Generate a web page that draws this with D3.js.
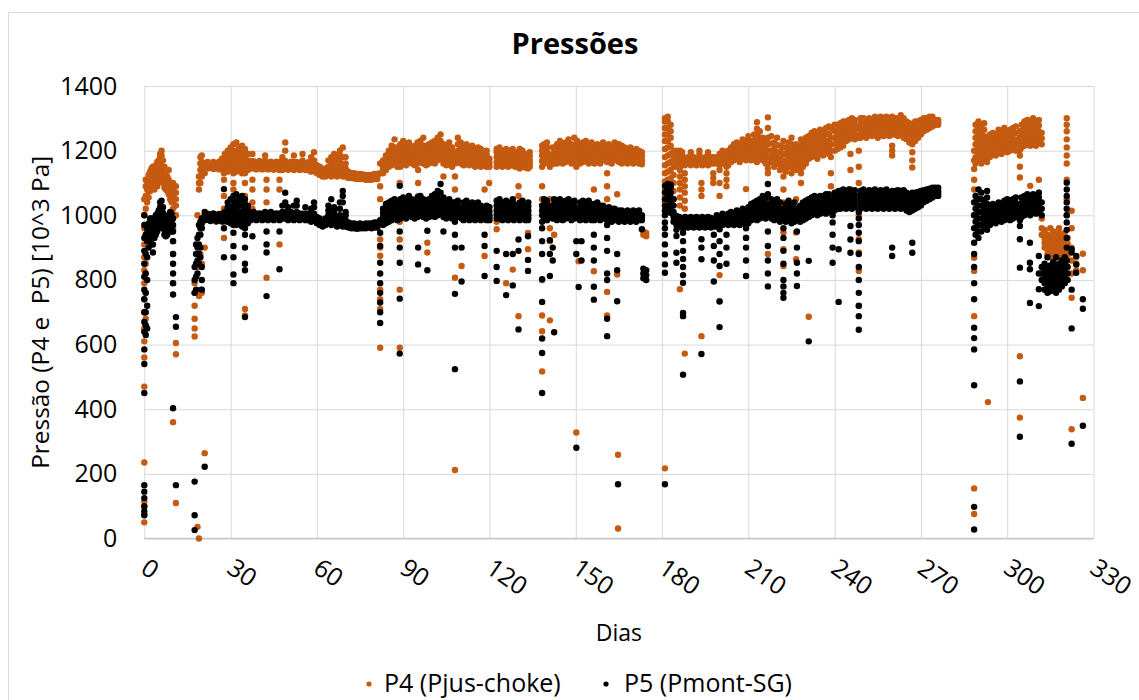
<!DOCTYPE html>
<html><head><meta charset="utf-8">
<script src="https://cdn.jsdelivr.net/npm/d3@7"></script>
<style>body{margin:0;background:#fff}svg{display:block}text{font-family:"Open Sans",sans-serif}</style>
</head><body>
<svg id="c" width="1139" height="700"></svg>
<script>
// ---- data ----
const titleText = "Pressões";
const xLabel = "Dias";
const yLabel = "Pressão (P4 e  P5) [10^3 Pa]";
const seriesNames = ["P4 (Pjus-choke)", "P5 (Pmont-SG)"];
const xTicks = [0,30,60,90,120,150,180,210,240,270,300,330];
const yTicks = [0,200,400,600,800,1000,1200,1400];

// each entry: [day, value, value, ...]  (all points observed at that day)
const p4Columns = [
[0,50,75,100,115,235,470,560,610,650,700,740,790,830,870,910,960,1000,1050],
[0.5,680,760,850,940,1020,1060,1090,1110],[1,1040,1060,1080,1095,1110],[1.5,1055,1075,1090,1105,1125],
[2,1075,1090,1105,1120,1135],[2.5,1085,1100,1115,1130,1145],[3,1090,1105,1120,1135,1150],[3.5,1080,1095,1110,1125,1145],
[4,1095,1110,1125,1140,1155],[4.5,1090,1105,1120,1140,1165],[5,1105,1120,1135,1150,1170],[5.5,1115,1130,1145,1160,1180,1190],
[6,1120,1135,1150,1170,1185,1200],[6.5,1100,1115,1130,1150,1170],[7,1085,1100,1115,1130,1150],[7.5,1080,1095,1110,1125],
[8,1075,1090,1105,1120],[8.5,1065,1080,1095,1110,1140],[9,1050,1065,1080,1095],[9.5,1040,1055,1070,1085],
[10,360,790,880,920,960,1000,1020,1040,1060,1080,1100],[11,110,570,605,1000,1030,1050,1070,1090],
[17.5,625,650,680,720,760,790],[18.5,36,840,880,1000],[19,0,750,850,1080,1100,1120],[19.5,770,880,1100,1120,1140,1160,1180],
[20,760,850,1120,1135,1150,1165,1185],[21,264,900,1130,1145,1160],
[22,1145,1155,1165],[23,1147,1158],[24,1143,1153,1165],[25,1146,1158],[26,1142,1154,1166],[27,1145,1158,1175],
[27.7,930,980,1020,1060,1110,1130],[28,1140,1155,1170,1190],[29,1135,1150,1165,1185,1200],[30,1140,1155,1175,1195,1210],
[31,1080,1100,1130,1145,1160,1180,1200,1220],[32,1135,1150,1170,1185,1200,1225],[33,1140,1155,1175,1195,1210],
[34,1130,1145,1160,1180,1195,1215],[35,690,710,1060,1100,1130,1145,1165,1180,1205],[36,1140,1155,1170,1190],
[37,1145,1157,1168],[37.6,1020,1040,1080,1110,1190],[38,1145,1157,1167],[39,1142,1155,1164],[40,1146,1158,1168],
[41,1142,1153,1163],[42,1145,1157,1170,1185],[42.5,807,1040,1080,1110],[43,1142,1152,1162],[44,1145,1156,1166],
[45,1141,1152,1162],[46,1145,1156,1166],[47,910,1080,1110,1140,1152,1165],[48,1140,1152,1165,1180],
[49,1145,1157,1168,1200,1225],[50,1141,1152,1162],[51,1144,1155,1166],[52,1140,1152,1165,1185],[53,1144,1155,1165],
[54,1140,1151,1161],[55,1143,1155,1170,1190],[56,1140,1150,1160],[57,1140,1152,1164],[58,1135,1148,1162,1180],
[59,1138,1152,1170,1195],[60,1130,1142,1155],[61,1125,1137,1150],[62,1120,1130,1140],[63,1120,1132,1145],
[64,1125,1137,1150,1170],[65,1120,1135,1150,1165,1180],[66,1125,1140,1160,1175,1190],[67,1120,1135,1150,1175],
[68,1125,1145,1165,1185,1200],[69,1120,1135,1150,1180,1210],[70,1120,1132,1145,1160,1180],[71,1115,1125,1135],
[72,1115,1123,1130],[73,1114,1122,1130],[74,1112,1120,1128],[75,1112,1120,1128],[76,1112,1119,1126],[77,1110,1118,1125],
[78,1110,1118,1125],[79,1110,1118,1125],[80,1112,1120,1128],[81,1112,1120,1128],
[82,590,710,740,770,875,900,925,1050,1090,1130,1160],[83,1130,1140,1150,1160,1170],[84,1140,1152,1165,1175,1185],
[85,1150,1162,1175,1190,1200],[86,1155,1170,1185,1200,1215],[87,1160,1175,1190,1210,1235],[88,1150,1165,1180,1195,1210],
[88.8,590,770,925,980,1040,1100],
[89,1150,1165,1185,1200,1220],[90,1160,1175,1190,1210,1230],[91,1155,1170,1185,1200,1215],[92,1165,1180,1195,1210,1225],
[93,1160,1175,1190,1200,1210],[94,1155,1170,1185,1200,1215],[95,1160,1178,1195,1210,1225],[95.2,1060,1100,1140],
[96,1165,1180,1200,1215,1230],[97,1160,1178,1195,1215,1240],[98,1155,1170,1185,1200,1215],[98.4,885,915],
[99,1160,1175,1190,1205,1220],[100,1165,1180,1195,1210,1225],[101,1160,1175,1190,1210,1230],[102,1170,1185,1200,1220,1240],
[103,1175,1190,1210,1230,1250],[104,1120,1160,1175,1190,1205,1220],[105,1155,1170,1185,1200,1215],
[106,1160,1175,1190,1205,1225],[107,1150,1165,1180,1195,1210],[108,212,807,1040,1080,1120,1160,1175,1190],
[109,1165,1180,1200,1220,1240],[110,1160,1175,1190,1205,1225],[110.3,843],[111,1155,1170,1185,1200,1215],
[112,1160,1175,1190,1205,1220],[113,1155,1168,1180,1195,1210],[114,1160,1175,1190,1203,1215],[115,1150,1165,1180,1193,1205],
[116,1155,1170,1185,1198,1210],[117,1150,1165,1180,1193,1205],[118,1155,1170,1185],[118.3,874,1080],
[119,1150,1162,1175,1188,1200],[119.9,1100],[120,1150,1162,1175],
[122.5,957,980,1150,1165,1180,1195,1205],[123.5,1155,1170,1185,1198,1210],[124.5,1150,1162,1175,1188,1200],
[125.8,790,1155,1168,1180,1193,1205],[126.5,1150,1162,1175,1188,1200],[127.3,1155,1170,1185,1200],
[128.1,832,1155,1168,1180,1193,1205],[129,1150,1165,1180,1195],[130.1,688,1060,1090,1150,1165,1180],
[130.5,1145,1160,1175,1190,1205],[131.5,1150,1165,1180,1190,1200],[132.5,1148,1162,1175,1190],
[133.4,895,945,1145,1160,1175],[134,1150,1160,1170,1183,1195],
[138.3,517,641,690,800,1050,1090,1150,1168,1185,1200,1215],[139,1160,1175,1190,1205,1220],[140,1165,1180,1195,1210,1225],
[141,675,920,960,1010,1050,1150,1165,1180],[142,1160,1175,1190,1210],[142.5,940,990,1030,1160,1178,1195],
[143.5,1160,1175,1190,1205,1220],[144.5,1170,1185,1200,1215,1230],[145.5,1160,1175,1190,1205,1220],
[146.5,1165,1180,1195,1210,1225],[147.5,1170,1185,1200,1218,1235],[148.5,1160,1175,1190,1205,1220],
[149.5,1165,1180,1195,1215,1240],[150.2,328,1150],[151,858],[150.5,1170,1185,1200,1215,1230],
[151.5,1160,1175,1190,1203,1215],[152.5,1165,1180,1195,1210,1225],[153.5,1170,1185,1200,1215,1230],
[154.5,1160,1175,1190,1205,1220],[155.5,1165,1180,1195,1210,1225],[156.3,827,1080],[156.5,1160,1172,1185,1200,1215],
[157.5,1165,1180,1195,1208,1220],[158.5,1160,1175,1190,1203,1215],[159.5,1170,1185,1200,1213,1225],
[160.9,690,763,1050,1090,1130,1165,1180,1195],[161.5,1165,1180,1195,1208,1220],[162.5,1160,1172,1185,1198,1210],
[163.5,1170,1185,1200,1213,1225],[164.4,817,1065],[164.7,31,259],[165,1165,1180,1195,1208,1220],
[166,1160,1175,1190,1203,1215],[167,1165,1180,1195,1210],[168,1160,1172,1185,1195,1205],[169,1165,1178,1190,1200,1210],
[170,1160,1172,1185,1193,1200],[171,1165,1178,1190,1198,1205],[172,1160,1172,1185,1193,1200],[173,1158,1170,1183,1195],
[173.5,940,950],[174.5,935,945],
[181,217,1040,1060,1080,1105,1130,1155,1180,1205,1230,1250,1270,1290,1300],
[182,1060,1085,1110,1135,1160,1185,1210,1230,1250,1270,1290,1305],[183,1090,1115,1140,1165,1190,1215,1240,1260,1280],
[184,1050,1075,1100,1125,1150,1175,1200],[185,1150,1162,1175,1188,1200],
[186.2,771,1030,1055,1080,1100,1120,1140,1165,1180,1200],[187,1155,1165,1175,1185,1195],
[187.9,572,1020,1045,1070,1090,1110,1130,1155,1165,1175],[189,1160,1170,1180],[190,1155,1165,1175,1185,1195],
[191,1160,1170,1180],[192,1155,1165,1175],[193,1160,1170,1180,1190,1200],[193.7,626,1060,1080,1100],[194,1155,1165,1175],
[195,1160,1170,1180],[196,1155,1165,1175,1185,1195],[197,1160,1170,1180],[197.8,1100,1115,1130,1160,1170,1180],
[199,1160,1170,1180],
[200,735,815,1060,1100,1140,1155,1170,1190],[201,1160,1170,1180,1190,1200],[202.4,1090,1110,1130,1150,1165,1175,1185],
[203,1155,1165,1175,1188,1200],[204,1165,1175,1185,1198,1210],[205,1170,1182,1195,1208,1220],[206,1175,1188,1200,1212,1225],
[207,1165,1178,1190,1205,1220],[208,1175,1188,1200,1218,1235],[209.2,931,967,1081,1170,1182,1195,1212,1230],
[210,1175,1190,1205,1225,1245],[211,1170,1185,1200,1215,1230],[212,1180,1198,1215,1232,1250],
[213,1165,1188,1210,1230,1250,1268,1288],[214,1180,1200,1220,1240,1260],[215,1170,1188,1205,1222,1240],
[216,1160,1178,1195,1215,1235],[216.8,880,1130,1145,1160,1180,1200,1220,1240,1270,1303],[218,1165,1182,1200,1222,1245],
[219,1150,1168,1185,1205,1225],[220,1160,1178,1195,1218,1240],[221,1140,1158,1175,1195,1215],
[222.2,843,895,947,1040,1080,1120,1150,1170,1190,1210,1230],[223,1135,1152,1170,1190,1210],[224,1150,1168,1185,1205,1225],
[225,1130,1148,1165,1182,1200,1220,1240],[226,1145,1162,1180,1198,1215],[226.6,864,947,1050,1140,1158,1175,1198,1220],
[227.5,1150,1170,1190,1210],[228.3,1100,1130,1145,1160,1180,1200,1218,1235],[229,1150,1168,1185,1205,1225],
[230,1160,1178,1195,1218,1240],[231,686,1175,1192,1210,1228,1245],[232,1180,1198,1215,1235,1255],
[233,1185,1202,1220,1240,1260],[234,1175,1195,1215,1232,1250],[235,1190,1208,1225,1245,1265],[236,1185,1202,1220,1238,1255],
[237,1195,1212,1230,1250,1270],[238,1190,1210,1230,1252,1275],[238.7,1090,1130,1180,1200,1220,1240,1270],
[240,1200,1220,1240,1260,1280],[241,1205,1225,1245,1262,1280],[242,1210,1230,1250,1268,1285],[243,1215,1235,1255,1272,1290],
[244,1230,1245,1260,1275,1290],[245,1235,1250,1265,1280,1295],[245.5,1081,1140,1190],[246,1240,1255,1270,1285,1300],
[247,1235,1250,1265,1280,1295],[248.4,719,828,885,926,1000,1060,1100,1150,1200,1240,1270],[249,1240,1255,1270,1285,1300],
[250,1245,1260,1275,1288,1300],[251,1240,1255,1270,1283,1295],[252,1250,1263,1275,1288,1300],[253,1245,1258,1270,1283,1295],
[254,1250,1265,1280,1293,1305],[255,1240,1255,1270,1285,1300],[256,1250,1265,1280,1293,1305],[257,1245,1260,1275,1288,1300],
[258,1250,1265,1280,1293,1305],[259,1245,1260,1275,1288,1300],[260,1185,1200,1215,1250,1265,1280,1293,1305],
[261,1250,1265,1280,1290,1300],[262,1245,1260,1275,1288,1300],[263,1255,1268,1280,1295,1310],[264,1240,1255,1270,1285,1300],
[265,1235,1248,1260,1275,1290],[266,1225,1240,1255,1270,1285],[267,1148,1170,1195,1220,1235,1250,1265,1280],
[268,1230,1245,1260,1275,1290],[269,1240,1252,1265,1278,1290],[270,1250,1262,1275,1285,1295],[271,1260,1270,1280,1290,1300],
[272,1265,1275,1285,1293,1300],[273,1270,1280,1290,1298,1305],[274,1275,1283,1290,1298,1305],[275,1280,1288,1295],
[276,1280,1288,1295],
[288.5,76,155,688,828,869,1000,1040,1080,1110,1143,1170,1200],[289,1160,1180,1200,1220,1240,1260,1280],
[290,1170,1190,1210,1230,1250,1270,1290],[291,1160,1180,1200,1220,1240,1260,1280],[292,1170,1188,1205,1225,1245,1265,1285],
[293.3,422],[293,1165,1182,1200,1220,1240],[294,1180,1198,1215,1232,1250],[295,1190,1205,1220,1238,1255],
[296,1185,1200,1215,1232,1250],[297,1195,1210,1225,1245,1265],[298,1190,1205,1220,1240,1260],[299,1200,1215,1230,1250,1270],
[300,1195,1210,1225,1242,1260],[301,1200,1215,1230,1248,1265],[302,1205,1220,1235,1252,1270],[303,1200,1218,1235,1255,1275],
[304.4,374,564,1117,1150,1185,1202,1220,1240,1260],[305,1210,1228,1245,1262,1280],[306,1215,1232,1250,1270,1290],
[307,1220,1238,1255,1275,1295],[308,1091,1215,1232,1250,1268,1285],[309,1220,1240,1260,1280,1300],
[310,1215,1232,1250,1270,1290],[311,1030,1070,1110,1225,1242,1260,1278,1295],[312,940,960,990,1220,1238,1255],
[313,900,915,930,945,955],[314,880,895,910,925,940],[315,870,885,900,918,935,960],[316,860,878,895,910,925,950],
[317,870,888,905,922,940],[318,880,898,915,930,945,960],[319,870,885,900,918,935],[320,880,895,910,928,945],
[320.7,1000,1050,1110,1160,1185,1210,1235,1260,1280,1300],[321,860,878,895,912,930],[322.4,338,745,820,860,900,960,1014],
[324,830,850,870],[326.3,435,830,881]
];

const p5Columns = [
[0,72,85,100,125,145,165,450,540,585,640,670,700,740,770,810,850,890,930,970,1000],
[0.5,630,660,700,760,820,880,940],[1,650,720,800,870,920,945,960],[1.5,900,920,940,958,975],[2,920,940,960,975,990],
[2.5,910,930,950,970,990],[3,885,910,940,960,980],[3.5,930,945,960,975,990],[4,940,955,970,985,1000],
[4.5,950,965,980,992,1005],[5,960,975,990,1002,1015],[5.5,980,995,1010,1025,1040],[6,970,985,1000,1020,1045],
[6.5,960,975,990,1008,1025],[7,940,955,970,985,1000],[7.5,935,948,960,975,990],[8,940,950,960,975,990],
[8.5,950,965,980,990,1000],[9,960,975,990,1000,1010],[9.5,950,965,980,992,1005],
[10,403,755,790,820,850,880,920,950,970,990],[11,165,655,685],
[17.5,26,72,176,760,800,840],[18,770,810,850,880,910],[18.5,820,860,900,930],[19,850,880,910,940,970],
[19.5,870,900,940,960,980],[20,770,800,840,960,975,990],[21,222,985,1000,1010],
[22,986,996,1005],[23,982,992,1002],[24,986,996,1006],[25,981,991,1001],[26,985,995,1004],[27,981,992,1005],
[27.7,870,960,1081],[28,985,997,1010],[29,980,995,1010,1025,1040],[30,975,990,1005,1025,1050],
[31,790,817,870,905,946,970,990,1010,1030,1045,1060],[32,970,985,1000,1020,1040,1065],[33,975,992,1010,1030,1050],
[34,965,980,995,1012,1030,1045,1060],[35,685,830,850,900,940,960,980,1000,1020,1035,1050],[36,975,988,1000,1015,1030],
[37,985,995,1005],[37.6,935,1000],[38,990,1000,1010],[39,985,995,1005],[40,990,998,1006],[41,985,995,1005],
[42,990,1000,1010],[42.5,750,885,910,950],[43,985,995,1005],[44,990,1000,1010],[45,985,995,1005],[46,990,998,1006],
[47,833,950,985,995,1005],[48,990,1000,1010,1030],[49,990,1000,1010,1040,1070],[50,985,995,1005,1025],
[51,990,1000,1010],[52,985,995,1005,1030],[53,990,1000,1010,1030,1045],[54,985,995,1005],[55,990,998,1005],
[56,985,995,1005,1025],[57,985,995,1005],[58,980,990,1000,1020],[59,985,995,1005,1025,1040],[60,975,985,995],
[61,970,980,990],[62,965,975,985],[63,970,980,990],[64,975,988,1000,1015,1030],[65,970,982,995,1020,1050],
[66,975,988,1000,1012,1025],[67,965,978,990],[68,970,985,1000,1020,1040],[69,965,978,990,1040,1060,1075],
[70,965,975,985,1000,1010],[71,962,970,978],[72,960,968,975],[73,960,968,975],[74,958,965,972],[75,960,968,975],
[76,960,966,972],[77,960,968,975],[78,962,968,975],[79,960,968,975],[80,962,970,978],[81,962,970,978],
[82,667,700,730,760,790,820,853,905,946,985],[83,970,982,995,1008,1020],[84,975,990,1005,1020,1035],
[85,980,995,1010,1025,1040],[86,985,1000,1015,1030,1045],[87,990,1005,1020,1035,1050],[88,985,1000,1015,1028,1040],
[88.8,572,742,853,900,950,1000,1091],
[89,990,1005,1020,1035,1050],[90,995,1010,1025,1040,1055],[91,990,1002,1015,1030,1045],[92,1000,1015,1030,1045,1060],
[93,995,1008,1020,1035,1050],[94,990,1002,1015,1028,1040],[95,995,1010,1025,1040,1055],[95.2,848,900],
[96,1000,1015,1030,1045,1060],[97,995,1008,1020,1035,1050],[98,990,1002,1015,1030,1045],[98.4,830,952],
[99,995,1008,1020,1035,1050],[100,1000,1015,1030,1045,1060],[101,995,1010,1025,1045,1065],[102,1000,1018,1035,1055,1075],
[103,1005,1025,1045,1070,1097],[104,950,995,1010,1025,1040,1055],[105,990,1002,1015,1030,1045],
[106,995,1008,1020,1035,1050],[107,990,1002,1015,1028,1040],[108,524,757,900,940,980,995,1010,1025,1040],
[109,995,1008,1020,1032,1045],[110.3,795,900,990,1005,1020],[111,985,998,1010,1025,1040],[112,990,1002,1015,1030,1045],
[113,985,998,1010,1022,1035],[114,990,1002,1015,1028,1040],[115,985,995,1005,1020,1035],[116,990,1000,1010,1025,1040],
[117,985,995,1005,1018,1030],[118.3,812,905,940,990,1005,1020],[119,985,995,1005,1018,1030],[120,985,993,1000,1012,1025],
[122.5,797,840,890,990,1002,1015,1030,1045],[123.5,990,1005,1020,1035,1050],[124.5,985,998,1010,1025,1040],
[125.8,753,880,990,1002,1015,1030,1045],[126.5,985,998,1010,1025,1040],[127.3,990,1005,1020,1035],
[128.1,783,880,990,1005,1020,1035,1050],[128.5,985,998,1010,1022,1035],[130.1,647,890,925,990,1002,1015],
[130.5,985,998,1010,1025,1040],[131.5,990,1002,1015,1030,1045],[132.5,985,1000,1015,1030],
[133.4,828,862,935,985,998,1010],[133.5,990,1002,1015,1028,1040],
[138.3,450,574,619,732,802,880,920,960,980,1000,1015,1030],[139,990,1005,1020,1035,1050],[140,985,1000,1015,1030,1045],
[141,812,880,923,1000,1015,1030],[142,860,900,990,1005,1020],[142.5,638,1035,1050],[143.5,985,1000,1015,1030,1045],
[144.5,990,1005,1020,1035,1050],[145.5,985,998,1010,1025,1040],[146.5,990,1002,1015,1030,1045],
[147.5,995,1008,1020,1035,1050],[148.5,985,998,1010,1025,1040],[149.5,990,1002,1015,1030,1045],[150.2,281,880,920],
[151,778,990,1005,1020],[151.5,985,998,1010,1025,1040],[152,860,920],[152.5,990,1002,1015,1030,1045],
[153.5,985,998,1010,1025,1040],[154.5,990,1002,1015,1030,1045],[155.5,985,995,1005,1020,1035],[156.3,739,779,860,900,940],
[156.5,985,995,1005,1020,1035],[157.5,990,1000,1010,1025,1040],[158.5,985,993,1000,1015,1030],[159.5,990,998,1005,1018,1030],
[160.9,626,680,800,820,890,930,970,985,1000],[161.5,985,993,1000,1012,1025],[162.5,980,988,995,1008,1020],
[163.5,985,993,1000,1010,1020],[164.4,734,830,880,990],[164.7,168],[165,980,988,995,1005,1015],[166,985,993,1000,1008,1015],
[167,980,988,995,1002,1010],[168,985,993,1000,1008,1015],[169,980,988,995,1002,1010],[170,985,993,1000,1008,1015],
[171,980,988,995,1002,1010],[172,985,993,1000,1008,1015],[173,957,985,993,1000],[173.5,805,820,835],[174.5,800,815,830],
[181,168,822,848,879,910,940,960,978,1000,1015,1030,1050,1071,1091],[182,1010,1030,1050,1065,1080,1097],
[183,1008,1025,1040,1055,1070,1085,1095],[184,980,995,1010,1030,1050],[185,853,884,936,955,970,985,998],
[186,965,975,985,995],[187.3,507,688,698,791,815,840,865,890,920,946,960,975],[188,965,975,985,995],
[189,962,972,982,992],[190,965,975,985,995],[191,962,972,982,992],[192,965,975,985,995],[193,962,972,982,992],
[193.7,571,864,900,926],[194,965,975,985,995],[195,962,972,982,992],[196,965,975,985,995],[197,962,972,982,992],
[198,795,860,905,940,965,975,985],[199,965,975,988,1000],
[200,654,733,843,880,920,957,975,985,995],[201,970,980,990,998,1005],[202.4,850,900,940,975,985,995],
[203,970,980,990,998,1005],[204,975,985,995,1002,1010],[205,970,980,990,998,1005],[206,975,985,995,1005,1015],
[207,970,980,990,1000,1010],[208,975,988,1000,1010,1020],[209.2,812,860,900,930,960,975,990,1000,1010],
[210,975,988,1000,1012,1025],[211,985,998,1010,1022,1035],[212,990,1002,1015,1028,1040],[213,985,1000,1015,1030,1045],
[214,990,1005,1020,1035,1050],[215,995,1010,1025,1042,1060],[216,990,1005,1020,1038,1055],
[216.8,780,820,860,905,950,1000,1018,1035,1065,1097],[218,990,1002,1015,1032,1050],[219,985,998,1010,1028,1045],
[220,990,1002,1015,1032,1050],[221,980,992,1005,1022,1040],[222.2,745,760,780,800,850,890,930,960,990,1005,1020],
[223,980,992,1005,1020,1035],[224,985,998,1010,1028,1045],[225,975,988,1000,1015,1030],[226,980,992,1005,1022,1040],
[226.9,781,820,853,900,950,990,1005,1020],[228,980,990,1000,1015,1030],[229,985,998,1010,1025,1040],
[230,990,1002,1015,1030,1045],[231,610,859,995,1008,1020,1035,1050],[232,1000,1012,1025,1040,1055],
[233,1005,1018,1030,1045,1060],[234,1000,1012,1025,1040,1055],[235,1005,1018,1030,1045,1060],[236,1010,1022,1035,1048,1060],
[237,1005,1018,1030,1048,1065],[238,1010,1022,1035,1050,1065],[239.3,853,900,940,978,1000,1020,1035,1050],
[240,1015,1028,1040,1055,1070],[241.4,732,895,1020,1032,1045,1060,1075],[242,1020,1032,1045,1060,1075],
[243,1025,1038,1050,1065,1080],
[244,1020,1032,1045,1060,1075],[245,1025,1038,1050,1065,1080],[245.5,884,925,967],[246,1020,1032,1045,1060,1075],
[247,1025,1038,1050,1064,1078],[248.4,646,688,720,760,800,840,880,920,946,970,990,1010],[249,1020,1032,1045,1060,1075],
[250,1025,1038,1050,1065,1080],[251,1020,1032,1045,1058,1070],[252,1025,1038,1050,1064,1078],[253,1020,1032,1045,1060,1075],
[254,1025,1038,1050,1065,1080],[255,1020,1032,1045,1058,1070],[256,1025,1038,1050,1064,1078],[257,1020,1032,1045,1060,1075],
[258,1025,1038,1050,1065,1080],[259,1020,1030,1040,1055,1070],[260,874,900,1025,1038,1050,1062,1075],
[261,1020,1032,1045,1060,1075],[262,1025,1038,1050,1064,1078],[263,1020,1032,1045,1060,1075],[264,1025,1038,1050,1064,1078],
[265,1015,1028,1040,1055,1070],[266,1010,1022,1035,1050,1065],[267,884,915,1015,1028,1040,1055,1070],
[268,1020,1032,1045,1058,1070],[269,1025,1038,1050,1061,1072],[270,1030,1042,1055,1065,1075],[271,1040,1050,1060,1069,1078],
[272,1045,1055,1065,1072,1080],[273,1050,1058,1065,1074,1082],[274,1055,1062,1070,1078,1085],[275,1060,1068,1075,1085],
[276,1060,1068,1075,1085],
[288.5,28,98,474,585,620,652,740,790,840,880,915,960,1000,1040],[289,940,960,980,1000,1020,1040,1060],
[290,930,950,970,990,1010,1030,1050,1080],[291,950,970,990,1010,1030,1050,1070],[292,960,980,1000,1020,1040],
[293,955,975,995,1015,1035,1055,1075],[294,970,985,1000,1015,1030],[295,980,992,1005,1020,1035],[296,975,988,1000,1015,1030],
[297,985,998,1010,1025,1040],[298,980,992,1005,1020,1035],[299,985,998,1010,1028,1045],[300,990,1002,1015,1032,1050],
[301,985,998,1010,1028,1045],[302,990,1002,1015,1032,1050],[303,995,1008,1020,1038,1055],
[304.4,315,486,838,926,967,985,1000,1015,1030],[305,995,1008,1020,1038,1055],[306,1000,1012,1025,1042,1060],
[307,1005,1018,1030,1048,1065],[307.9,729,833,853,915],[308,1000,1015,1030,1045,1060],[309,1010,1022,1035,1050,1065],
[310,1005,1018,1030,1045,1060],[311,719,771,820,874,1010,1025,1040,1055,1070],[312,800,820,840,1000,1020,1040],
[313,770,790,810,830,850],[314,760,780,800,820,840,870],[315,765,785,805,825,845],[316,775,795,815,835,855],
[317,760,780,800,820,840,870],[318,770,790,810,830,850],[319,780,800,820,840,860],[320,790,810,830,850,870],
[320.7,860,900,930,955,978,1000,1020,1040,1060,1080,1101],[321,800,820,840],[322.4,293,650,770,885,895],
[324,822,848,874],[326.3,349,711,740]
];

const colors = ["#C55A11", "#000000"];

// ---- drawing ----
const svg = d3.select("#c");
const m = {left: 144.3, right: 1093.5, top: 86, bottom: 538.5};

svg.append("rect").attr("x",8.5).attr("y",12.5).attr("width",1150).attr("height",720)
  .attr("fill","#fff").attr("stroke","#d9d9d9").attr("stroke-width",1);

const x = d3.scaleLinear().domain([0,330]).range([m.left,m.right]);
const y = d3.scaleLinear().domain([0,1400]).range([m.bottom,m.top]);

// gridlines
svg.append("g").attr("transform",`translate(0,${m.bottom})`)
  .call(d3.axisBottom(x).tickValues(xTicks).tickSize(-(m.bottom-m.top)).tickFormat(""))
  .call(g=>g.select(".domain").remove())
  .call(g=>g.selectAll("line").attr("stroke","#d9d9d9").attr("stroke-width",1));
svg.append("g").attr("transform",`translate(${m.left},0)`)
  .call(d3.axisLeft(y).tickValues(yTicks).tickSize(-(m.right-m.left)).tickFormat(""))
  .call(g=>g.select(".domain").remove())
  .call(g=>g.selectAll("line").attr("stroke","#d9d9d9").attr("stroke-width",1));
svg.append("line").attr("x1",m.left).attr("x2",m.right).attr("y1",y(0)).attr("y2",y(0))
  .attr("stroke","#c8c8c8").attr("stroke-width",1.3);

// y tick labels
svg.append("g").attr("transform",`translate(${m.left},0)`)
  .call(d3.axisLeft(y).tickValues(yTicks).tickSize(0).tickPadding(27).tickFormat(d3.format("d")))
  .call(g=>g.select(".domain").remove())
  .call(g=>g.selectAll("text").attr("font-size",25).attr("fill","#000").attr("font-family","Open Sans"));

// x tick labels (rotated)
svg.append("g").selectAll("text").data(xTicks).join("text")
  .attr("transform",d=>`translate(${x(d)},${m.bottom+26}) rotate(35)`)
  .attr("font-size",25).attr("fill","#000").attr("dy","0.35em")
  .text(d=>d);

// points
const flat = cols => cols.flatMap(([d,...vs]) => vs.map(v => ({d, v})));
[p4Columns, p5Columns].forEach((cols,i)=>{
  svg.append("g").selectAll("circle").data(flat(cols)).join("circle")
    .attr("cx",p=>x(p.d)).attr("cy",p=>y(p.v)).attr("r",3.2)
    .attr("fill",colors[i]);
});

// titles
svg.append("text").attr("x",575).attr("y",54).attr("text-anchor","middle")
  .attr("font-size",29).attr("font-weight","bold").attr("fill","#000").text(titleText);
svg.append("text").attr("x",(m.left+m.right)/2).attr("y",641).attr("text-anchor","middle")
  .attr("font-size",23).attr("fill","#000").text(xLabel);
svg.append("text").attr("transform",`translate(49,${(m.top+m.bottom)/2}) rotate(-90)`)
  .attr("text-anchor","middle").attr("font-size",24.4).attr("fill","#000")
  .style("white-space","pre").text(yLabel);

// legend
const leg = [{x:369,tx:384},{x:606,tx:624}];
leg.forEach((l,i)=>{
  svg.append("circle").attr("cx",l.x).attr("cy",684).attr("r",2.6).attr("fill",colors[i]);
  svg.append("text").attr("x",l.tx).attr("y",692).attr("font-size",25).attr("fill","#000").text(seriesNames[i]);
});
</script>
</body></html>
